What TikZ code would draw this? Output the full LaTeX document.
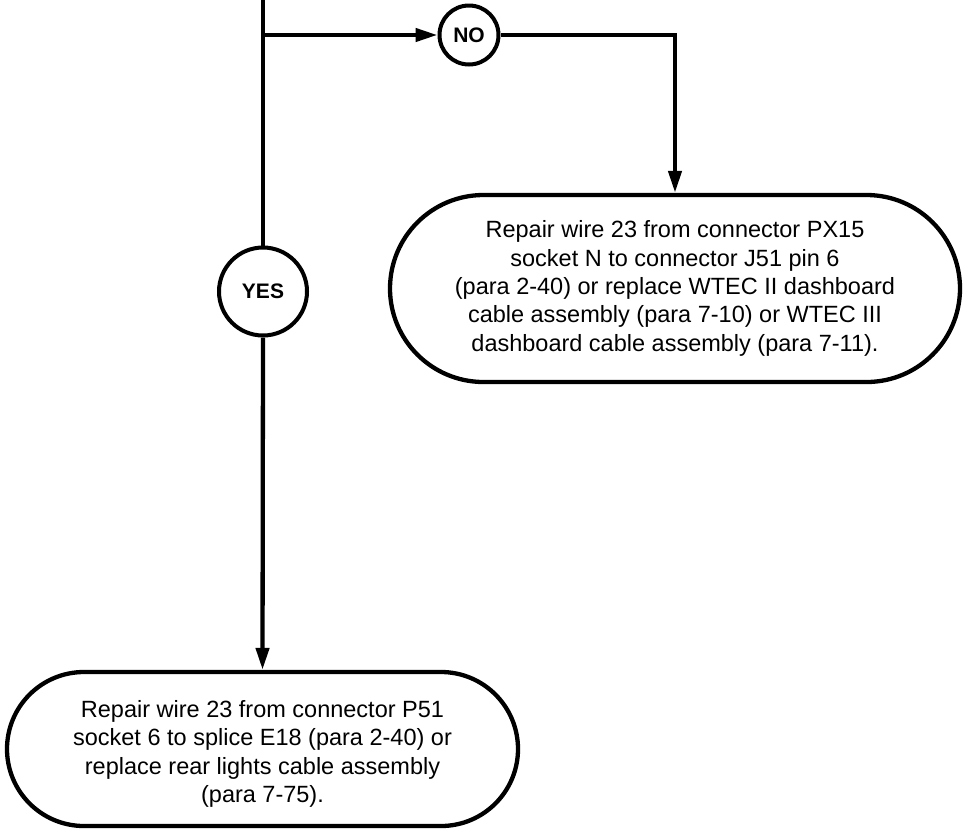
\documentclass[tikz,border=0pt]{standalone}
\usepackage{fontspec}
\setmainfont{Liberation Sans}
\usetikzlibrary{arrows.meta,shapes.misc}
\begin{document}
\begin{tikzpicture}[x=1pt,y=-1pt,
  conn/.style={line width=4.3pt},
  arr/.style={conn,-{Triangle[length=22pt,width=13pt]}},
  decision/.style={circle,draw,line width=4pt,inner sep=0pt,font=\fontsize{21}{24}\selectfont\bfseries},
  action/.style={rounded rectangle,draw,line width=4.3pt,inner sep=0pt,align=center,font=\fontsize{23.5}{28.4}\selectfont}]
\useasboundingbox (0,0) rectangle (964,831);
\coordinate (top) at (263,-3);
\coordinate (junc) at (263,35);
\coordinate (corner) at (675,35);
\node[decision,minimum size=59pt] (no) at (469,35) {NO};
\node[decision,minimum size=88pt] (yes) at (263,291.5) {YES};
\node[action,minimum width=570pt,minimum height=187pt] (rbox) at (675,288.5)
  {Repair wire 23 from connector PX15\\socket N to connector J51 pin 6\\(para 2-40) or replace WTEC II dashboard\\cable assembly (para 7-10) or WTEC III\\dashboard cable assembly (para 7-11).};
\node[action,minimum width=511pt,minimum height=154pt] (lbox) at (262.5,749)
  {\rule{0pt}{27pt}Repair wire 23 from connector P51\\socket 6 to splice E18 (para 2-40) or\\replace rear lights cable assembly\\(para 7-75).};
\draw[conn] (top) -- (yes.north);
\draw[arr] (junc) -- (no.west);
\draw[arr] (no.east) -- (corner) -- (rbox.north);
\draw[arr] (yes.south) -- (lbox.north);
\end{tikzpicture}
\end{document}
